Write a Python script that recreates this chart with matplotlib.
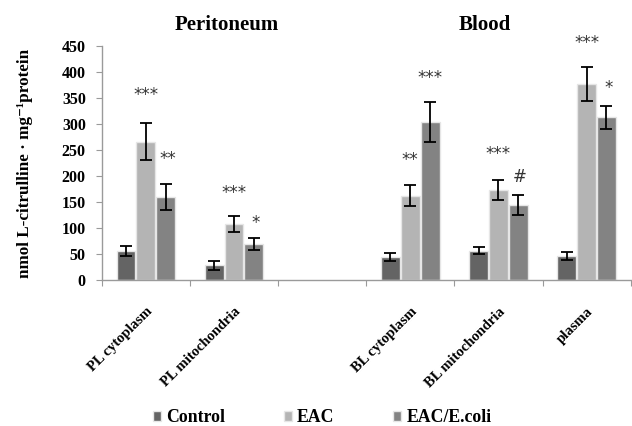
import numpy as np
import matplotlib
matplotlib.use("Agg")
import matplotlib.pyplot as plt

# ---- data ----
categories = ["PL cytoplasm", "PL mitochondria", "", "BL cytoplasm", "BL mitochondria", "plasma"]
series = ["Control", "EAC", "EAC/E.coli"]
control = [56, 28, np.nan, 44, 56, 46]
control_err = [10, 9, np.nan, 7, 7, 7]
eac = [266, 108, np.nan, 162, 173, 377]
eac_err = [35, 15, np.nan, 20, 20, 33]
ecoli = [160, 69, np.nan, 304, 144, 313]
ecoli_err = [25, 12, np.nan, 38, 19, 22]

# significance marks: (category index, series index, y value, text)
marks = [
    (0, 1, 355, "***"), (0, 2, 232, "**"),
    (1, 1, 168, "***"), (1, 2, 110, "*"),
    (3, 1, 230, "**"), (3, 2, 388, "***"),
    (4, 1, 242, "***"), (4, 2, 197, "#"),
    (5, 1, 455, "***"), (5, 2, 370, "*"),
]

colors = ["#646464", "#b4b4b4", "#838383"]
serif = ["Liberation Serif", "DejaVu Serif"]
plt.rcParams["font.family"] = serif

fig = plt.figure(figsize=(6.32, 4.26), dpi=100)
ax = fig.add_axes([0.161, 0.343, 0.837, 0.549])

x = np.arange(len(categories)) + 0.5
w = 0.215
step = 0.225
vals = [control, eac, ecoli]
errs = [control_err, eac_err, ecoli_err]
for i, (v, e) in enumerate(zip(vals, errs)):
    ax.bar(x + (i - 1) * step, v, w, color=colors[i], edgecolor="#e6e6e6",
           linewidth=1.0, label=series[i], zorder=2)
    ax.errorbar(x + (i - 1) * step, v, yerr=e, fmt="none", ecolor="black",
                elinewidth=1.3, capsize=4, capthick=1.3, zorder=3)

# sig. marks, offset to the right for the E.coli series
for ci, si, y, txt in marks:
    xo = x[ci] + (si - 1) * step
    if si == 2 and txt != "***":
        xo += 0.02
    ax.text(xo, y, txt, ha="center", va="center", fontsize=12,
            family="DejaVu Sans", color="#333333")

ax.set_xlim(0, len(categories))
ax.set_ylim(0, 450)
ax.set_yticks(range(0, 451, 50))
ax.set_xticks(range(0, len(categories) + 1))
ax.set_xticklabels([])
ax.set_xticks(x, minor=True)
ax.set_xticklabels(categories, minor=True, rotation=45, ha="right",
                   rotation_mode="anchor", fontsize=10.5, fontweight="bold")
ax.tick_params(axis="x", which="minor", length=0, pad=18)
ax.tick_params(axis="x", which="major", length=4, color="#9a9a9a", direction="out")
ax.tick_params(axis="y", length=4, color="#9a9a9a", labelsize=11.5, pad=7.5)
for lab in ax.get_yticklabels():
    lab.set_fontweight("bold")

for s in ["top", "right"]:
    ax.spines[s].set_visible(False)
for s in ["left", "bottom"]:
    ax.spines[s].set_color("#9a9a9a")
    ax.spines[s].set_linewidth(1.0)

ax.set_ylabel("nmol L-citrulline · mg\u207b\u00b9protein", fontsize=12.3,
              fontweight="bold", va="center")
ax.yaxis.set_label_coords(-0.145, 0.5)

fig.text(227 / 632, 1 - 25 / 426, "Peritoneum", ha="center", va="center",
         fontsize=15, fontweight="bold")
fig.text(485 / 632, 1 - 25 / 426, "Blood", ha="center", va="center",
         fontsize=15, fontweight="bold")

leg = fig.legend(loc="center", bbox_to_anchor=(0.51, 1 - 418 / 426), ncol=3,
                 frameon=False, handlelength=0.45, handleheight=0.45,
                 handletextpad=0.3, columnspacing=3.3,
                 prop={"family": serif, "weight": "bold", "size": 12.8})

fig.savefig("out.png", dpi=100)
